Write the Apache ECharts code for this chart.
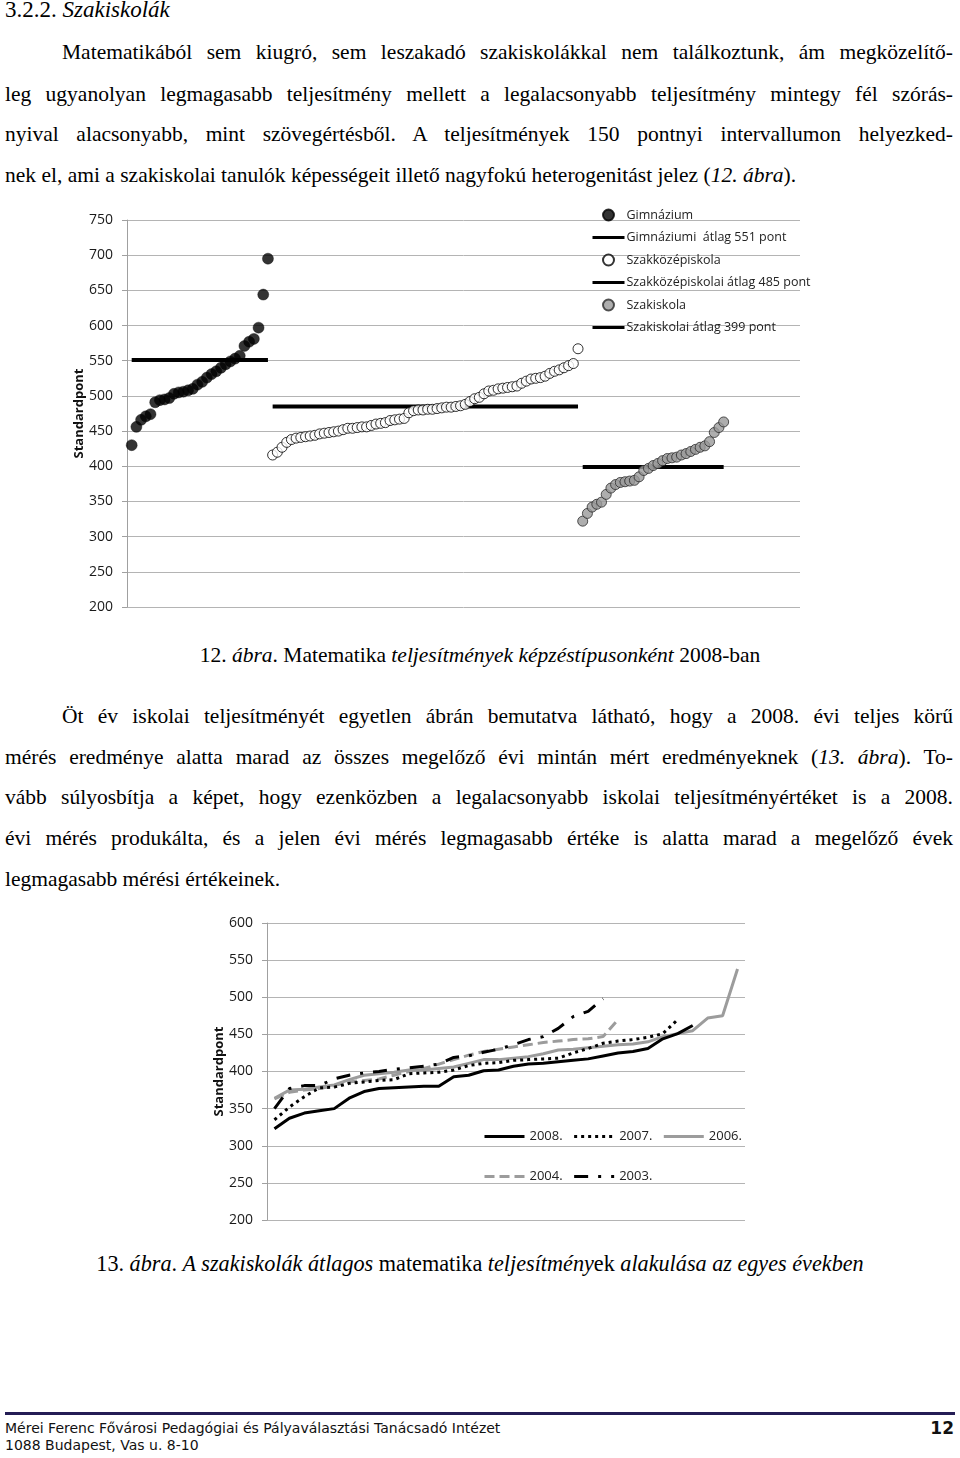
<!DOCTYPE html>
<html><head><meta charset="utf-8">
<script src="https://cdn.jsdelivr.net/npm/echarts@6/dist/echarts.min.js"></script>
<style>
html,body{margin:0;padding:0;background:#fff;}
body{width:960px;height:1458px;position:relative;overflow:hidden;font-family:"Liberation Serif","Times New Roman",serif;color:#000;}
.ln{position:absolute;font-size:21.5px;line-height:30px;white-space:normal;}
.j{text-align:justify;text-align-last:justify;}
.c{text-align:center;}
i{font-style:italic;}
#c1{position:absolute;left:0;top:195px;width:960px;height:430px;}
#c2{position:absolute;left:0;top:900px;width:960px;height:340px;}
.foot{position:absolute;font-family:"DejaVu Sans",sans-serif;font-size:14px;line-height:17px;color:#111;}
</style></head>
<body>
<div class="ln" style="top:-5px;left:5px;font-size:23px;">3.2.2. <i>Szakiskolák</i></div>

<div class="ln j" style="top:37px;left:62px;width:891px;">Matematikából sem kiugró, sem leszakadó szakiskolákkal nem találkoztunk, ám megközelítő-</div>
<div class="ln j" style="top:79px;left:5px;width:948px;">leg ugyanolyan legmagasabb teljesítmény mellett a legalacsonyabb teljesítmény mintegy fél szórás-</div>
<div class="ln j" style="top:119px;left:5px;width:948px;">nyival alacsonyabb, mint szövegértésből. A teljesítmények 150 pontnyi intervallumon helyezked-</div>
<div class="ln" style="top:160px;left:5px;">nek el, ami a szakiskolai tanulók képességeit illető nagyfokú heterogenitást jelez (<i>12. ábra</i>).</div>

<div id="c1"></div>

<div class="ln c" style="top:640px;left:0;width:960px;">12. <i>ábra</i>. Matematika <i>teljesítmények képzéstípusonként</i> 2008-ban</div>

<div class="ln j" style="top:701px;left:62px;width:891px;">Öt év iskolai teljesítményét egyetlen ábrán bemutatva látható, hogy a 2008. évi teljes körű</div>
<div class="ln j" style="top:742px;left:5px;width:948px;">mérés eredménye alatta marad az összes megelőző évi mintán mért eredményeknek (<i>13. ábra</i>). To-</div>
<div class="ln j" style="top:782px;left:5px;width:948px;">vább súlyosbítja a képet, hogy ezenközben a legalacsonyabb iskolai teljesítményértéket is a 2008.</div>
<div class="ln j" style="top:823px;left:5px;width:948px;">évi mérés produkálta, és a jelen évi mérés legmagasabb értéke is alatta marad a megelőző évek</div>
<div class="ln" style="top:864px;left:5px;">legmagasabb mérési értékeinek.</div>

<div id="c2"></div>

<div class="ln c" style="top:1249px;left:0;width:960px;font-size:22.2px;">13. <i>ábra</i>. <i>A szakiskolák átlagos</i> matematika <i>teljesítmény</i>ek <i>alakulása az egyes években</i></div>

<div style="position:absolute;left:5px;top:1412px;width:950px;height:3px;background:#241d55;"></div>
<div class="foot" style="left:5px;top:1420px;">Mérei Ferenc Fővárosi Pedagógiai és Pályaválasztási Tanácsadó Intézet</div>
<div class="foot" style="left:5px;top:1437px;">1088 Budapest, Vas u. 8-10</div>
<div class="foot" style="right:6px;top:1418px;font-weight:bold;font-size:17px;line-height:20px;">12</div>

<script>
// ---------- Figure 12 data ----------
const yTicks1 = [200, 250, 300, 350, 400, 450, 500, 550, 600, 650, 700, 750];
const gimnazium = [430, 456, 466, 471, 474, 491, 494, 495, 497, 503, 505, 506, 508, 510, 516, 520, 526, 531, 535, 540, 545, 549, 553, 557, 571, 577, 581, 597, 644, 695];
const szakkozep = [416, 420, 427, 434, 438, 440, 441, 442, 443, 444, 446, 447, 448, 449, 450, 452, 454, 454, 455, 456, 456, 458, 460, 461, 462, 465, 466, 467, 468, 476, 479, 480, 480, 481, 481, 482, 483, 484, 484, 485, 486, 488, 492, 496, 498, 503, 507, 508, 510, 511, 512, 513, 514, 518, 521, 524, 525, 526, 528, 532, 535, 537, 540, 543, 546, 567];
const szakiskola = [322, 333, 342, 346, 349, 360, 369, 374, 377, 378, 379, 380, 385, 394, 397, 401, 404, 408, 411, 412, 413, 416, 418, 421, 424, 427, 429, 435, 448, 455, 463];
const gimnMean = 551;
const szkMean = 485;
const sziMean = 399;
const names1 = ['Gimnázium', 'Gimnáziumi  átlag ' + gimnMean + ' pont', 'Szakközépiskola', 'Szakközépiskolai átlag ' + szkMean + ' pont', 'Szakiskola', 'Szakiskolai átlag ' + sziMean + ' pont'];

// ---------- Figure 13 data ----------
const yTicks2 = [200, 250, 300, 350, 400, 450, 500, 550, 600];
const y2008 = [323, 337, 344, 347, 350, 364, 373, 377, 378, 379, 380, 380, 393, 395, 401, 402, 407, 410, 411, 413, 415, 417, 421, 425, 427, 431, 444, 451, 462];
const y2007 = [335, 352, 366, 378, 379, 384, 386, 388, 389, 397, 398, 399, 402, 408, 411, 412, 415, 416, 417, 418, 425, 431, 438, 441, 443, 446, 451, 470];
const y2006 = [364, 375, 376, 379, 382, 389, 395, 397, 399, 402, 402, 404, 406, 411, 416, 416, 418, 420, 424, 429, 430, 432, 434, 436, 437, 440, 447, 451, 455, 472, 475, 538];
const y2004 = [363, 372, 375, 377, 381, 386, 388, 390, 395, 400, 404, 410, 416, 422, 427, 430, 433, 436, 439, 441, 443, 444, 447, 470];
const y2003 = [350, 377, 381, 381, 390, 395, 398, 400, 403, 405, 407, 410, 419, 421, 426, 430, 436, 443, 447, 458, 474, 481, 498];
const years = ['2008.', '2007.', '2006.', '2004.', '2003.'];

const FONT = 'Open Sans';
const GRID_C = '#b4b4b4';
const AXIS_C = '#a0a0a0';
const HIDE = {opacity: 0};

// ---------- Chart 1 ----------
const n1 = gimnazium.length, n2 = szakkozep.length, n3 = szakiskola.length;
const gData = gimnazium.map((v, i) => [i + 1, v]);
const kData = szakkozep.map((v, i) => [n1 + i + 1, v]);
const sData = szakiskola.map((v, i) => [n1 + n2 + i + 1, v]);
const meanLine = (m, a, b) => [[a, m], [b, m]];
const meanSeries = (name, data) => ({
  name, type: 'line', data, symbol: 'none', showSymbol: false,
  lineStyle: {color: '#000', width: 4}, itemStyle: {color: 'rgba(0,0,0,0)'}, z: 2
});

const ch1 = echarts.init(document.getElementById('c1'), null, {renderer: 'canvas'});
ch1.setOption({
  animation: false,
  textStyle: {fontFamily: FONT},
  grid: {left: 127, right: 160, top: 25, bottom: 18, containLabel: false},
  xAxis: {type: 'value', min: 0, max: 143.25, show: false},
  yAxis: {
    type: 'value', min: yTicks1[0], max: yTicks1[yTicks1.length - 1], interval: 50,
    name: 'Standardpont', nameLocation: 'middle', nameGap: 41, nameMoveOverlap: false,
    nameTextStyle: {fontFamily: FONT, fontWeight: 'bold', fontSize: 13, color: '#111'},
    axisLine: {show: true, lineStyle: {color: AXIS_C, width: 1}},
    axisTick: {show: true, length: 5, lineStyle: {color: AXIS_C}},
    axisLabel: {fontFamily: FONT, fontSize: 14, color: '#1a1a1a', margin: 14},
    splitLine: {show: true, lineStyle: {color: GRID_C, width: 1}}
  },
  legend: {
    orient: 'vertical', left: 591, top: 13, padding: 0,
    itemWidth: 32, itemHeight: 11, itemGap: 8.5,
    lineStyle: {width: 3},
    textStyle: {fontFamily: FONT, fontSize: 12.5, color: '#222', lineHeight: 14, padding: [0, 0, 0, -3]},
    data: [
      {name: names1[0], icon: 'circle'},
      {name: names1[1], itemStyle: HIDE},
      {name: names1[2], icon: 'circle'},
      {name: names1[3], itemStyle: HIDE},
      {name: names1[4], icon: 'circle'},
      {name: names1[5], itemStyle: HIDE}
    ]
  },
  series: [
    meanSeries(names1[1], meanLine(gimnMean, 1, n1)),
    meanSeries(names1[3], meanLine(szkMean, n1 + 1, n1 + n2)),
    meanSeries(names1[5], meanLine(sziMean, n1 + n2 + 1, n1 + n2 + n3)),
    {name: names1[0], type: 'scatter', data: gData, symbol: 'circle', symbolSize: 11,
      itemStyle: {color: '#000', borderColor: '#000', borderWidth: 0.5}, z: 3},
    {name: names1[2], type: 'scatter', data: kData, symbol: 'circle', symbolSize: 10,
      itemStyle: {color: '#fff', borderColor: '#000', borderWidth: 1}, z: 3},
    {name: names1[4], type: 'scatter', data: sData, symbol: 'circle', symbolSize: 10,
      itemStyle: {color: '#9a9a9a', borderColor: '#2a2a2a', borderWidth: 1}, z: 3}
  ]
});

// ---------- Chart 2 ----------
const maxLen = Math.max(y2008.length, y2007.length, y2006.length, y2004.length, y2003.length);
const ranks = Array.from({length: maxLen}, (_, i) => String(i + 1));
const ch2 = echarts.init(document.getElementById('c2'), null, {renderer: 'canvas'});
const lineSeries = (name, data, color, type) => ({
  name, type: 'line', data, showSymbol: false, symbol: 'none',
  lineStyle: {color, width: 3, type}, itemStyle: {color: 'rgba(0,0,0,0)'}
});
const legendCommon = {
  left: 483, padding: 0, itemWidth: 40, itemHeight: 14, itemGap: 10,
  itemStyle: HIDE, lineStyle: {width: 3},
  textStyle: {fontFamily: FONT, fontSize: 13, color: '#222'}
};
ch2.setOption({
  animation: false,
  textStyle: {fontFamily: FONT},
  grid: {left: 267, right: 215, top: 23, bottom: 20, containLabel: false},
  xAxis: {type: 'category', data: ranks, boundaryGap: true, show: false},
  yAxis: {
    type: 'value', min: yTicks2[0], max: yTicks2[yTicks2.length - 1], interval: 50,
    name: 'Standardpont', nameLocation: 'middle', nameGap: 41, nameMoveOverlap: false,
    nameTextStyle: {fontFamily: FONT, fontWeight: 'bold', fontSize: 13, color: '#111'},
    axisLine: {show: true, lineStyle: {color: AXIS_C, width: 1}},
    axisTick: {show: true, length: 5, lineStyle: {color: AXIS_C}},
    axisLabel: {fontFamily: FONT, fontSize: 14, color: '#1a1a1a', margin: 14},
    splitLine: {show: true, lineStyle: {color: GRID_C, width: 1}}
  },
  legend: [
    Object.assign({}, legendCommon, {top: 230, data: [years[0], years[1], years[2]]}),
    Object.assign({}, legendCommon, {top: 270, data: [years[3], years[4]]})
  ],
  series: [
    lineSeries(years[2], y2006, '#9c9c9c', 'solid'),
    lineSeries(years[3], y2004, '#9c9c9c', [10, 5]),
    lineSeries(years[4], y2003, '#000', [14, 10, 3, 10]),
    lineSeries(years[1], y2007, '#000', [3, 4]),
    lineSeries(years[0], y2008, '#000', 'solid')
  ]
});
</script>
</body></html>
